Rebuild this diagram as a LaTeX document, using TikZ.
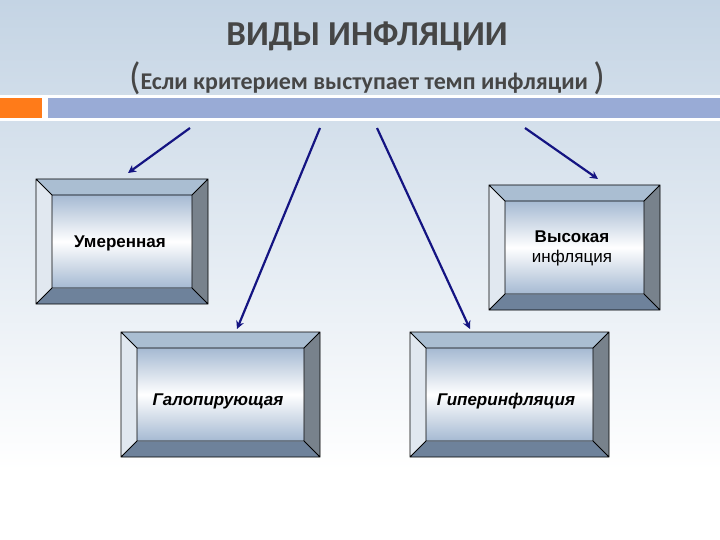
\documentclass[tikz,border=0pt]{standalone}
\usepackage{fontspec}
\setmainfont{Carlito}
\newfontfamily\arialf{Liberation Sans}
\usetikzlibrary{calc,arrows.meta}
\definecolor{navy}{RGB}{20,20,130}
\definecolor{bgtop}{RGB}{196,212,228}
\definecolor{faceT}{RGB}{170,190,210}
\definecolor{faceL}{RGB}{225,232,240}
\definecolor{faceR}{RGB}{120,130,140}
\definecolor{faceB}{RGB}{110,130,155}
\definecolor{innerE}{RGB}{165,185,210}
\definecolor{titlec}{RGB}{70,70,70}
\tikzset{arr/.style={draw=navy,line width=2.2pt,-{Stealth[length=8pt,width=8pt]}},
 lbl/.style={font=\arialf\bfseries\fontsize{17}{20}\selectfont,align=center}}
\newcommand{\bevbox}[7]{% name x1 y1 x2 y2 bevel text
 \coordinate (#1-a) at (#2,#3); \coordinate (#1-b) at (#4,#5);
 \coordinate (#1-c) at ($(#1-a)+(#6,#6)$); \coordinate (#1-d) at ($(#1-b)-(#6,#6)$);
 \fill[faceT] (#1-a) -- (#4,#3) -- (#1-d |- #1-c) -- (#1-c) -- cycle;
 \fill[faceL] (#1-a) -- (#1-c) -- (#1-c |- #1-d) -- (#2,#5) -- cycle;
 \fill[faceR] (#4,#3) -- (#1-b) -- (#1-d) -- (#1-d |- #1-c) -- cycle;
 \fill[faceB] (#2,#5) -- (#1-c |- #1-d) -- (#1-d) -- (#1-b) -- cycle;
 \shade[top color=innerE,bottom color=innerE,middle color=white] (#1-c) rectangle (#1-d);
 \draw[line width=0.8pt] (#1-a) rectangle (#1-b) (#1-c) rectangle (#1-d)
   (#1-a) -- (#1-c) (#4,#3) -- (#1-d |- #1-c) (#1-b) -- (#1-d) (#2,#5) -- (#1-c |- #1-d);
 #7}
\begin{document}
\begin{tikzpicture}[x=1pt,y=-1pt]
\useasboundingbox (0,0) rectangle (720,540);
\shade[top color=bgtop,bottom color=white] (0,0) rectangle (720,470);
\fill[white] (0,470) rectangle (720,540);
\fill[white] (0,95) rectangle (720,121);
\fill[orange!85!red!90!white] (0,98) rectangle (42,118);
\fill[faceT!90!blue] (48,98) rectangle (720,118);
\node[text=titlec,font=\bfseries\fontsize{35}{40}\selectfont] (title) at (367,36) {ВИДЫ ИНФЛЯЦИИ};
\node[text=titlec,font=\bfseries\fontsize{24}{28}\selectfont] (sub) at (367,78)
 {{\fontsize{38}{40}\selectfont\mdseries(}Если критерием выступает темп инфляции {\fontsize{38}{40}\selectfont\mdseries)}};
\bevbox{b1}{36}{179}{208}{304}{16}{\node[lbl] (t1) at (120,243) {Умеренная};}
\bevbox{b2}{489}{185}{660}{310}{16}{\node[lbl] (t2) at (572,248) {Высокая\\\mdseries инфляция};}
\bevbox{b3}{121}{332}{320}{457}{16}{\node[lbl,font=\arialf\bfseries\itshape\fontsize{17}{20}\selectfont] (t3) at (218,401) {Галопирующая};}
\bevbox{b4}{410}{332}{609}{457}{16}{\node[lbl,font=\arialf\bfseries\itshape\fontsize{17}{20}\selectfont] (t4) at (506,401) {Гиперинфляция};}
\coordinate (s1) at (190,128); \coordinate (e1) at (128,173);
\coordinate (s2) at (320,128); \coordinate (e2) at (237,329);
\coordinate (s3) at (377,128); \coordinate (e3) at (470,329);
\coordinate (s4) at (525,128); \coordinate (e4) at (598,179);
\draw[arr] (s1) -- (e1); \draw[arr] (s2) -- (e2);
\draw[arr] (s3) -- (e3); \draw[arr] (s4) -- (e4);
\end{tikzpicture}
\end{document}
